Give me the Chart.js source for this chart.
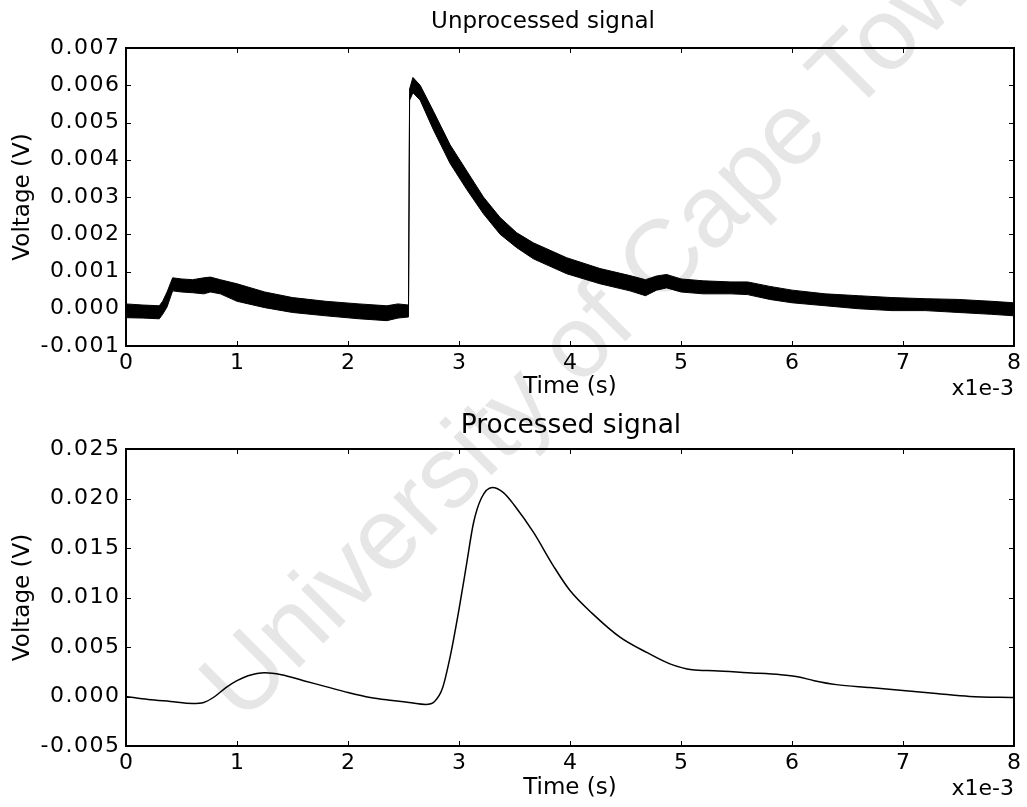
<!DOCTYPE html>
<html>
<head>
<meta charset="utf-8">
<script src="https://cdn.jsdelivr.net/npm/chart.js@4.4.1/dist/chart.umd.min.js"></script>
<style>
  html, body { margin: 0; padding: 0; background: #fff; }
  #page { position: relative; width: 1027px; height: 807px; overflow: hidden; }
  #mark {
    position: absolute; left: 606px; top: 312px;
    transform: translate(-50%, -50%) rotate(-45deg);
    font: 102px "Liberation Sans", Arial, sans-serif;
    color: #e6e6e6; white-space: nowrap; z-index: 0;
  }
  canvas { position: absolute; left: 0; z-index: 1; }
  #top { top: 0; }
  #bottom { top: 400px; }
</style>
</head>
<body>
<div id="page">
  <div id="mark">University of Cape Town</div>
  <canvas id="top" width="1027" height="400" style="width:1027px;height:400px"></canvas>
  <canvas id="bottom" width="1027" height="407" style="width:1027px;height:407px"></canvas>
</div>
<script>
// time axis in ms (shown as x1e-3 s)
const xTicks = [0, 1, 2, 3, 4, 5, 6, 7, 8];
const xLabels = ['0', '1', '2', '3', '4', '5', '6', '7', '8'];

// unprocessed signal: noisy band, read as upper / lower edge of the trace
const rawTime = [0, 0.15, 0.3, 0.33, 0.37, 0.42, 0.5, 0.6, 0.7, 0.76, 0.85, 1.0, 1.25, 1.5, 1.8, 2.1, 2.35, 2.45, 2.545,
  2.555, 2.585, 2.65, 2.77, 2.92, 3.07, 3.22, 3.37, 3.52, 3.67, 3.97, 4.27, 4.54, 4.68, 4.78, 4.87, 5.0, 5.2, 5.45, 5.6,
  5.8, 6.0, 6.3, 6.6, 6.9, 7.2, 7.5, 7.8, 8.0];
const rawUpper = [0.00013, 0.0001, 0.00008, 0.0002, 0.00045, 0.00083, 0.0008, 0.00078, 0.00083, 0.00085, 0.00078, 0.00067,
  0.00045, 0.0003, 0.0002, 0.00013, 0.00008, 0.00013, 0.0001,
  0.0059, 0.00621, 0.006, 0.0053, 0.0044, 0.0037, 0.003, 0.00245, 0.00204, 0.00177, 0.00137, 0.00108, 0.00089, 0.00078,
  0.00088, 0.00092, 0.0008, 0.00075, 0.00072, 0.00072, 0.0006, 0.0005, 0.0004, 0.00035, 0.0003, 0.00027, 0.00025, 0.0002, 0.00016];
const rawLower = [-0.00024, -0.00025, -0.00027, -0.00015, 0.00005, 0.00048, 0.00045, 0.00043, 0.0004, 0.00045, 0.0004, 0.0002,
  0.00003, -0.0001, -0.00019, -0.00027, -0.00032, -0.00025, -0.00022,
  0.0056, 0.0058, 0.0056, 0.0048, 0.0039, 0.0032, 0.00255, 0.002, 0.00164, 0.00134, 0.00094, 0.00067, 0.00048, 0.00035,
  0.0005, 0.00056, 0.00045, 0.0004, 0.0004, 0.00038, 0.00025, 0.00016, 0.00008, 0, -0.00005, -0.00005, -0.0001, -0.00015, -0.00019];
const rawYTicks = [0.007, 0.006, 0.005, 0.004, 0.003, 0.002, 0.001, 0, -0.001];
const rawYLabels = ['0.007', '0.006', '0.005', '0.004', '0.003', '0.002', '0.001', '0.000', '-0.001'];

// processed signal
const procTime = [0, 0.2, 0.4, 0.6, 0.7, 0.8, 0.9, 1.0, 1.1, 1.25, 1.4, 1.6, 1.8, 2.0, 2.2, 2.4, 2.55, 2.7, 2.78, 2.85,
  2.92, 3.0, 3.07, 3.13, 3.2, 3.3, 3.4, 3.5, 3.67, 3.85, 4.0, 4.2, 4.45, 4.7, 4.9, 5.1, 5.3, 5.6, 5.9, 6.05, 6.2, 6.4,
  6.7, 7.0, 7.3, 7.6, 8.0];
const procVolt = [0, -0.0003, -0.0005, -0.0007, -0.0006, 0, 0.0009, 0.0016, 0.0021, 0.0024, 0.0022, 0.0016, 0.001, 0.0004,
  -0.0001, -0.0004, -0.0006, -0.0008, -0.0005, 0.0008, 0.004, 0.0088, 0.0135, 0.0175, 0.02, 0.0211, 0.0206, 0.0193,
  0.0166, 0.0132, 0.0107, 0.0084, 0.006, 0.0044, 0.0033, 0.0027, 0.0026, 0.0024, 0.0022, 0.002, 0.0016, 0.0012,
  0.0009, 0.0006, 0.0003, 0, -0.0001];
const procYTicks = [0.025, 0.02, 0.015, 0.01, 0.005, 0, -0.005];
const procYLabels = ['0.025', '0.020', '0.015', '0.010', '0.005', '0.000', '-0.005'];

const FONT = '"DejaVu Sans", Verdana, sans-serif';

// frame, inward ticks, tick labels and title
const framePlugin = {
  id: 'frame',
  afterDatasetsDraw(chart, args, opts) {
    const { ctx, chartArea: a, scales: { x, y } } = chart;
    ctx.save();
    ctx.strokeStyle = '#000';
    ctx.lineWidth = 1;
    ctx.beginPath();
    xTicks.forEach(v => {
      const px = Math.round(x.getPixelForValue(v)) + 0.5;
      ctx.moveTo(px, a.bottom); ctx.lineTo(px, a.bottom - 5);
      ctx.moveTo(px, a.top); ctx.lineTo(px, a.top + 5);
    });
    opts.yTicks.forEach(v => {
      const py = Math.round(y.getPixelForValue(v)) + 0.5;
      ctx.moveTo(a.left, py); ctx.lineTo(a.left + 5, py);
      ctx.moveTo(a.right, py); ctx.lineTo(a.right - 5, py);
    });
    ctx.stroke();
    ctx.lineWidth = 2;
    ctx.strokeRect(a.left, a.top, a.right - a.left, a.bottom - a.top);

    ctx.fillStyle = '#000';
    ctx.font = '22px ' + FONT;
    ctx.textBaseline = 'middle';
    ctx.textAlign = 'center';
    xTicks.forEach((v, i) => ctx.fillText(xLabels[i], x.getPixelForValue(v), a.bottom + 17));
    ctx.textAlign = 'right';
    ctx.fillText('x1e-3', a.right, a.bottom + 43);
    ctx.letterSpacing = '1.5px';
    opts.yTicks.forEach((v, i) => ctx.fillText(opts.yLabels[i], a.left - 5.5, y.getPixelForValue(v)));
    ctx.letterSpacing = '0px';

    ctx.font = opts.titleSize + 'px ' + FONT;
    ctx.textAlign = 'center';
    ctx.fillText(opts.title, opts.titleX, opts.titleY);
    ctx.restore();
  }
};

function axes(yMin, yMax, xHeight, xPadBottom) {
  return {
    x: {
      type: 'linear', min: 0, max: 8,
      grid: { display: false }, border: { display: false },
      ticks: { display: false },
      title: { display: true, text: 'Time (s)', color: '#000',
        font: { family: FONT, size: 23, lineHeight: 1.1 }, padding: { top: 0, bottom: xPadBottom } },
      afterFit: s => { s.height = xHeight; }
    },
    y: {
      min: yMin, max: yMax,
      grid: { display: false }, border: { display: false },
      ticks: { display: false },
      title: { display: true, text: 'Voltage (V)', color: '#000',
        font: { family: FONT, size: 23, lineHeight: 1.1 }, padding: { top: 10, bottom: 0 } },
      afterFit: s => { s.width = 126; }
    }
  };
}

const pts = (xs, ys) => xs.map((t, i) => ({ x: t, y: ys[i] }));

new Chart(document.getElementById('top'), {
  type: 'line',
  data: {
    datasets: [
      { data: pts(rawTime, rawUpper), borderColor: '#000', borderWidth: 1, pointRadius: 0, fill: false },
      { data: pts(rawTime, rawLower), borderColor: '#000', borderWidth: 1, pointRadius: 0,
        fill: '-1', backgroundColor: '#000' }
    ]
  },
  options: {
    responsive: false, animation: false,
    layout: { padding: { top: 48, right: 13, bottom: 0, left: 0 } },
    scales: axes(-0.001, 0.007, 54, 0),
    plugins: {
      legend: { display: false }, tooltip: { enabled: false },
      frame: { yTicks: rawYTicks, yLabels: rawYLabels, title: 'Unprocessed signal',
        titleSize: 23, titleX: 543, titleY: 22 }
    }
  },
  plugins: [framePlugin]
});

new Chart(document.getElementById('bottom'), {
  type: 'line',
  data: {
    datasets: [
      { data: pts(procTime, procVolt), borderColor: '#000', borderWidth: 1.5, pointRadius: 0,
        fill: false, cubicInterpolationMode: 'monotone' }
    ]
  },
  options: {
    responsive: false, animation: false,
    layout: { padding: { top: 49, right: 13, bottom: 0, left: 0 } },
    scales: axes(-0.005, 0.025, 61, 6),
    plugins: {
      legend: { display: false }, tooltip: { enabled: false },
      frame: { yTicks: procYTicks, yLabels: procYLabels, title: 'Processed signal',
        titleSize: 26.5, titleX: 571, titleY: 26 }
    }
  },
  plugins: [framePlugin]
});
</script>
</body>
</html>
